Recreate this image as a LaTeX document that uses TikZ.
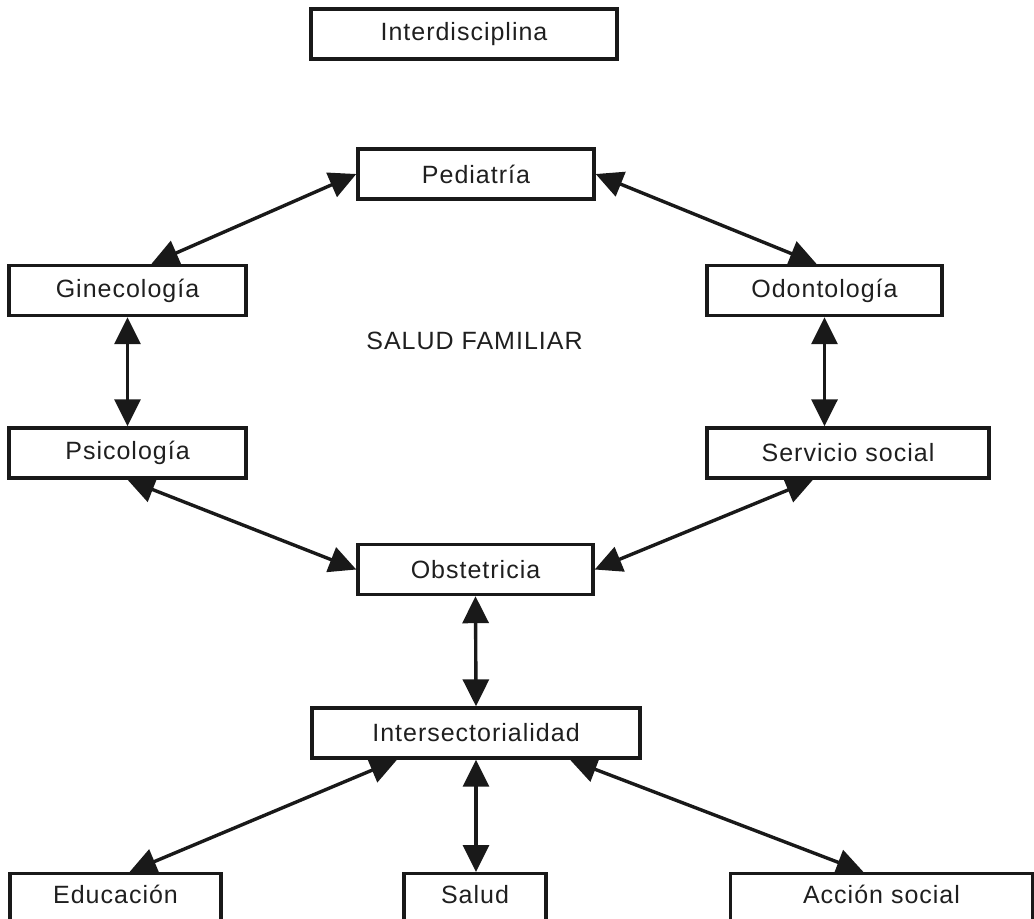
\documentclass[tikz,border=0pt]{standalone}
\usepackage{fontspec}
\setmainfont{Liberation Sans}[LetterSpace=4]
\usetikzlibrary{arrows.meta,positioning}
\definecolor{inkline}{gray}{0.1}
\definecolor{inktext}{gray}{0.12}

\begin{document}
\begin{tikzpicture}[
    x=0.5pt, y=-0.5pt,
    font=\fontsize{12.5pt}{14pt}\selectfont,
    box/.style = {rectangle, draw=inkline, line width=1.7pt, text=inktext, minimum height=25pt, inner sep=0pt},
    openbox/.style = {box, anchor=north, text height=15pt, text depth=10pt},
    line/.style = {draw=inkline, line width=1.7pt, {Triangle[length=13.5pt,width=13pt]}-{Triangle[length=13.5pt,width=13pt]}}
]
\useasboundingbox (0,0) rectangle (1034,918);

\node[box, minimum width=153pt] (interdisciplina) at (464,34) {Interdisciplina};
\node[box, minimum width=118pt] (pediatria) at (476,174) {Pediatría};
\node[box, minimum width=118.5pt] (ginecologia) at (127.5,290.5) {Ginecología};
\node[box, minimum width=117.5pt] (odontologia) at (824.5,290.5) {Odontología};
\node[text=inktext] (saludfamiliar) at (474.5,341) {SALUD FAMILIAR};
\node[box, minimum width=118.5pt] (psicologia) at (127.5,453) {Psicología};
\node[box, minimum width=141pt] (servicio) at (848,453) {Servicio social};
\node[box, minimum width=117.5pt] (obstetricia) at (475.5,569.5) {Obstetricia};
\node[box, minimum width=164pt] (intersectorialidad) at (476,733) {Intersectorialidad};
\node[openbox, minimum width=105.5pt] (educacion) at (115.5,872) {Educación};
\node[openbox, minimum width=71pt] (salud) at (475,872) {Salud};
\node[openbox, minimum width=151pt] (accion) at (881.5,872) {Acción social};

% ring round salud familiar
\path[line] (pediatria.west) -- ([xshift=12pt]ginecologia.north);
\path[line] (pediatria.east) -- ([xshift=-4pt]odontologia.north);
\path[line] (ginecologia.south) -- (psicologia.north);
\path[line] (odontologia.south) -- (odontologia.south |- servicio.north);
\path[line] (psicologia.south) -- (obstetricia.west);
\path[line] ([xshift=-17.5pt]servicio.south) -- (obstetricia.east);
\path[line] (obstetricia.south) -- (intersectorialidad.north);

% intersectorialidad
\path[line] ([xshift=-39.5pt]intersectorialidad.south) -- ([xshift=7pt]educacion.north);
\path[line] (intersectorialidad.south) -- (intersectorialidad.south |- salud.north);
\path[line] ([xshift=47pt]intersectorialidad.south) -- ([xshift=-9pt]accion.north);
\end{tikzpicture}
\end{document}
